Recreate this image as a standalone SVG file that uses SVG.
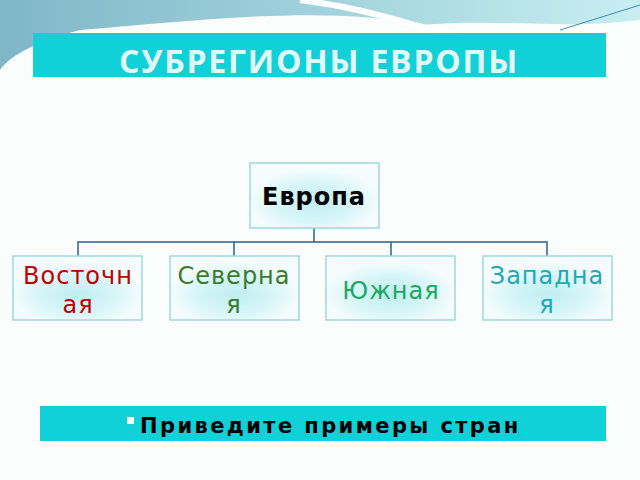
<svg xmlns="http://www.w3.org/2000/svg" width="640" height="480" viewBox="0 0 640 480">
<defs>
<linearGradient id="sky" x1="0" y1="0" x2="1" y2="0"><stop offset="0" stop-color="#7fb6c8"/><stop offset="0.6" stop-color="#a8d8e0"/><stop offset="1" stop-color="#c8eef2"/></linearGradient>
<radialGradient id="bf" cx="0.5" cy="0.6" r="0.5"><stop offset="0" stop-color="#bfeef2"/><stop offset="0.6" stop-color="#d8f6f8"/><stop offset="1" stop-color="#f4fcfd"/></radialGradient>
<style>
.box{fill:url(#bf);stroke:#9ed6de;stroke-width:1.5}
.t{font-family:"DejaVu Sans",sans-serif;font-size:24px;text-anchor:middle;letter-spacing:1px}
.c{fill:none;stroke:#2e5f8e;stroke-width:1.5}
</style>
</defs>
<rect width="640" height="480" fill="#fbfdfd"/>
<path d="M0,0 H640 V20 C560,30 500,18 420,25 C330,5 200,20 80,30 C40,40 10,55 0,70 Z" fill="url(#sky)"/>
<path d="M300,0 C380,10 420,30 460,35" fill="none" stroke="#ffffff" stroke-width="6"/>
<path d="M560,30 L640,5" stroke="#3a8ac0" stroke-width="1"/>
<rect x="33" y="33" width="573" height="44" fill="#10d0d8"/>
<text x="319" y="73" font-family="'Open Sans','DejaVu Sans',sans-serif" font-size="32" font-weight="bold" letter-spacing="1.8" fill="#e2f9fa" text-anchor="middle">СУБРЕГИОНЫ ЕВРОПЫ</text>
<g id="connectors">
<path class="c" d="M314,228 V242 M78,256 V242 H547 V256 M234,242 V256 M391,242 V256"/>
</g>
<g id="europa"><rect class="box" x="250" y="163" width="129" height="65"/><text class="t" x="314" y="205" fill="#000" font-weight="bold" font-size="22" letter-spacing="0">Европа</text></g>
<g id="east"><rect class="box" x="13" y="256" width="129" height="64"/><text class="t" x="78" y="284" fill="#c00000">Восточн</text><text class="t" x="78" y="313" fill="#c00000">ая</text></g>
<g id="north"><rect class="box" x="170" y="256" width="129" height="64"/><text class="t" x="234" y="284" fill="#3a7a2a">Северна</text><text class="t" x="234" y="313" fill="#3a7a2a">я</text></g>
<g id="south"><rect class="box" x="326" y="256" width="129" height="64"/><text class="t" x="391" y="299" fill="#1aa860">Южная</text></g>
<g id="west"><rect class="box" x="483" y="256" width="129" height="64"/><text class="t" x="547" y="284" fill="#20a8b8">Западна</text><text class="t" x="547" y="313" fill="#20a8b8">я</text></g>
<rect x="40" y="406" width="566" height="35" fill="#10d0d8"/>
<rect x="127" y="417" width="7" height="7" fill="#ffffff"/>
<text x="140" y="433" font-family="'DejaVu Sans',sans-serif" font-size="21" font-weight="bold" letter-spacing="2.4" fill="#000">Приведите примеры стран</text>
</svg>
